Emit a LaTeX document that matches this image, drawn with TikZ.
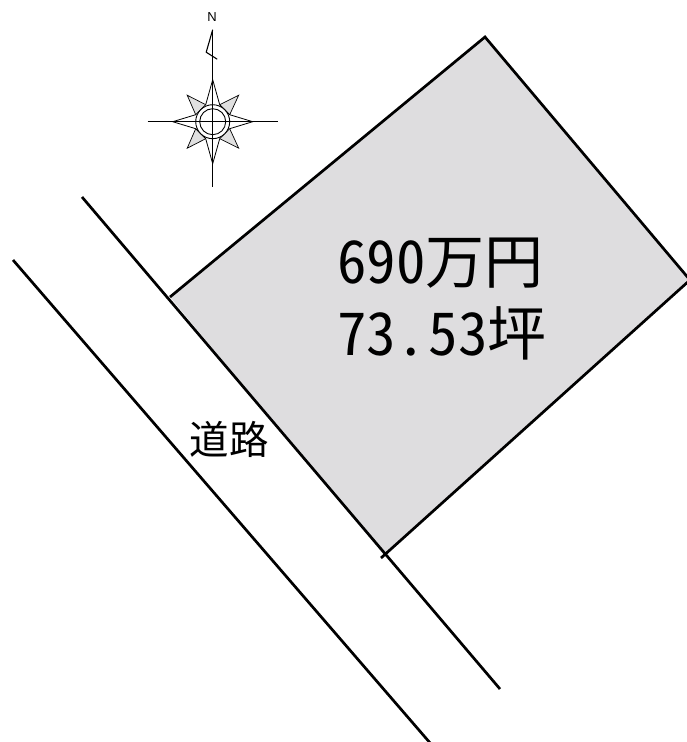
\documentclass[tikz,border=0pt]{standalone}
\usepackage{fontspec}
\newfontfamily\jp[RawFeature=+hwid]{Noto Sans CJK JP}
\newfontfamily\nfont{Liberation Sans}
\definecolor{lot}{RGB}{222,221,223}
\definecolor{starfill}{RGB}{224,224,224}
\tikzset{
  edge/.style={black,line width=2.7pt,line join=miter},
  thin line/.style={black,line width=1.2pt},
  big label/.style={inner sep=0pt,anchor=base,font=\jp\fontsize{59}{59}\selectfont},
  road label/.style={inner sep=0pt,anchor=center,font=\jp\fontsize{39.5}{39.5}\selectfont},
  north label/.style={inner sep=0pt,anchor=center,font=\nfont\fontsize{13}{13}\selectfont}
}
\begin{document}
\begin{tikzpicture}[x=1pt,y=-1pt]
\useasboundingbox (0,0) rectangle (687,742);
% lot
\coordinate (top) at (485,37);
\coordinate (right) at (690,280);
\coordinate (bottom) at (384,555);
\coordinate (left) at (170,297);
\begin{scope}
\clip (0,0) rectangle (687,742);
\fill[lot] (top) -- (right) -- (bottom) -- (left) -- cycle;
\draw[edge] (left) -- (top) -- (right) -- (381,558);
% road
\coordinate (r1a) at (82,197);
\coordinate (r1b) at (500,689);
\coordinate (r2a) at (13,260);
\coordinate (r2b) at (431,744);
\draw[edge] (r1a) -- (r1b);
\draw[edge] (r2a) -- (r2b);
\end{scope}
\node[big label,anchor=base west] (price) at (337,283.5) {690万円};
\node[big label,anchor=base west] (area) at (337,355) {73.\hspace{3pt}53坪};
\node[road label] (road) at (229,439) {道路};
% compass
\begin{scope}[shift={(212.7,121.7)}]
\fill[starfill,draw=black,line width=.7pt]
  (-25.5,-26.5) -- (-7,-17) -- (7,-17) -- (26,-26.5) -- (17,-7) -- (17,7) -- (26,26.5) -- (7,17) -- (-7,17) -- (-25.5,26.5) -- (-17,7) -- (-17,-7) -- cycle;
\fill[white,draw=black,line width=.8pt]
  (0,-42) -- (7,-17) -- (17,-7) -- (40,0) -- (17,7) -- (7,17) -- (0,42) -- (-7,17) -- (-17,7) -- (-40,0) -- (-17,-7) -- (-7,-17) -- cycle;
\fill[white,draw=black,line width=.9pt] (0,0) circle (17);
\draw[line width=.9pt] (0,0) circle (13);
\draw[thin line] (-65,0) -- (65,0);
\draw[thin line] (0,-92) -- (0,65);
\draw[line width=1.1pt,line join=round] (0,-92) -- (-6.5,-69.5) -- (4.5,-62.5);
\end{scope}
\node[north label] (north) at (212,17) {N};
\end{tikzpicture}
\end{document}
